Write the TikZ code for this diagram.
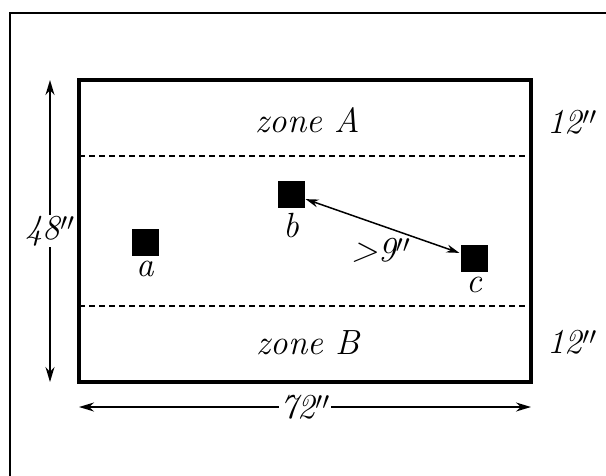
\documentclass[tikz,border=0pt]{standalone}
\usetikzlibrary{arrows.meta,positioning}
\begin{document}
\begin{tikzpicture}[x=1pt,y=-1pt,>={Stealth[length=15pt,width=9pt]},
  every node/.style={font=\fontsize{35}{42}\selectfont\itshape},
  piece/.style={fill=black,minimum size=27pt,inner sep=0pt},
  dimline/.style={<->,line width=1.8pt}]
  \useasboundingbox (0,0) rectangle (606,475);
  % outer frame
  \draw[line width=2pt] (10,480) -- (10,13) -- (610,13);
  % table and zones
  \draw[line width=4pt] (79,80) rectangle (531,382);
  \draw[line width=2pt,dash pattern=on 6pt off 4pt] (79,156) -- (531,156);
  \draw[line width=2pt,dash pattern=on 6pt off 4pt] (79,306) -- (531,306);
  \node (zoneA) at (308,120) {zone A};
  \node (zoneB) at (308,343) {zone B};
  \node (depthA) at (572,122) {12$''$};
  \node (depthB) at (572,342) {12$''$};
  % pieces
  \node[piece] (a) at (145,242) {};
  \node[piece] (b) at (291,194) {};
  \node[piece] (c) at (474,258) {};
  \node[below=2pt of a] (alabel) {a};
  \node[below=2pt of b] (blabel) {b};
  \node[below=2pt of c] (clabel) {c};
  \draw[<->,>={Stealth[length=13pt,width=8pt]},line width=1.5pt,shorten <=1pt,shorten >=1pt] (b) -- (c);
  \node (gap) at (381,250) {>9$''$};
  % dimensions
  \coordinate (top) at (50,80);
  \coordinate (bottom) at (50,382);
  \coordinate (left) at (79,407);
  \coordinate (right) at (531,407);
  \draw[dimline] (top) -- node[fill=white,inner sep=1pt] (height) {48$''$} (bottom);
  \draw[dimline] (left) -- node[fill=white,inner sep=1pt] (width) {72$''$} (right);
\end{tikzpicture}
\end{document}
